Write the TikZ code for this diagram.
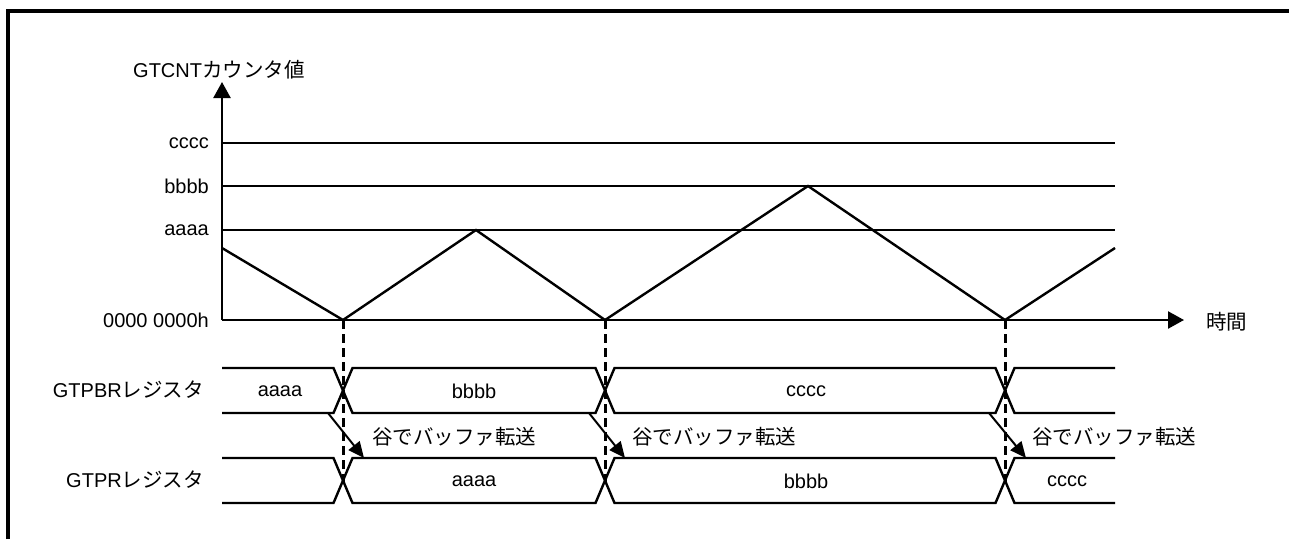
\documentclass[tikz,border=0pt]{standalone}
\usepackage{fontspec}
\setmainfont{Liberation Sans}
\newfontfamily\jpfont{Noto Sans CJK JP}
\usetikzlibrary{arrows.meta}
\newcommand{\lat}[1]{{\fontsize{20}{22}\selectfont #1}}
\newcommand{\jp}[1]{{\jpfont\fontsize{20.5}{22}\selectfont #1}}
\tikzset{
  ln/.style={line width=2.4pt},
  frame/.style={line width=3.4pt},
  axisarrow/.style={line width=2.4pt,-{Triangle[length=16pt,width=17pt]}},
  xfer/.style={line width=2pt,-{Triangle[length=16pt,width=14pt]}},
  vdash/.style={line width=3pt,dash pattern=on 9pt off 5pt},
  lbl/.style={inner sep=0pt,font=\fontsize{20}{22}\selectfont},
}
\begin{document}
\begin{tikzpicture}[x=1pt,y=-1pt]
\useasboundingbox (0,0) rectangle (1289,539);
% frame
\draw[frame] (8,539) -- (8,11) -- (1289,11);
% axes
\coordinate (o) at (222,320);
\coordinate (ytip) at (222,82);
\coordinate (xtip) at (1184,320);
\draw[axisarrow] (o) -- (ytip);
\draw[axisarrow] (o) -- (xtip);
\node[lbl,anchor=west] (ylab) at (133,70) {\lat{GTCNT}\jp{カウンタ値}};
\node[lbl,anchor=west] (xlab) at (1206,322) {\jp{時間}};
% levels
\node[lbl,anchor=east] (lc) at (209,143) {cccc};
\node[lbl,anchor=east] (lb) at (209,186) {bbbb};
\node[lbl,anchor=east] (la) at (209,230) {aaaa};
\node[lbl,anchor=east] (l0) at (209,320) {0000 0000h};
\draw[ln] (222,143) -- (1115,143);
\draw[ln] (222,186) -- (1115,186);
\draw[ln] (222,230) -- (1115,230);
% triangle wave
\coordinate (v1) at (343,320);
\coordinate (v2) at (605,320);
\coordinate (v3) at (1005,320);
\draw[ln,line join=miter] (222,248) -- (v1) -- (476,230) -- (v2) -- (808,186) -- (v3) -- (1115,248);
% register rows
\node[lbl,anchor=east] (r1) at (204,390) {\lat{GTPBR}\jp{レジスタ}};
\node[lbl,anchor=east] (r2) at (204,480) {\lat{GTPR}\jp{レジスタ}};
\foreach \t/\b in {368/413,458/503}{
  \draw[ln] (222,\t) -- (333.5,\t) -- (352.5,\b) -- (595.5,\b) -- (614.5,\t) -- (995.5,\t) -- (1014.5,\b) -- (1115,\b);
  \draw[ln] (222,\b) -- (333.5,\b) -- (352.5,\t) -- (595.5,\t) -- (614.5,\b) -- (995.5,\b) -- (1014.5,\t) -- (1115,\t);
}
\node[lbl] (p1) at (280,391) {aaaa};
\node[lbl] (p2) at (474,391) {bbbb};
\node[lbl] (p3) at (806,391) {cccc};
\node[lbl] (q1) at (474,481) {aaaa};
\node[lbl] (q2) at (806,481) {bbbb};
\node[lbl] (q3) at (1067,481) {cccc};
% crossing centres
\coordinate (c1) at (343,482);
\coordinate (c2) at (605,482);
\coordinate (c3) at (1005,482);
\draw[vdash] (v1) -- (c1);
\draw[vdash] (v2) -- (c2);
\draw[vdash] (v3) -- (c3);
% transfer arrows
\coordinate (s1) at (328,413); \coordinate (e1) at (364,458);
\coordinate (s2) at (589,413); \coordinate (e2) at (625,458);
\coordinate (s3) at (989,413); \coordinate (e3) at (1026,458);
\draw[xfer] (s1) -- (e1);
\draw[xfer] (s2) -- (e2);
\draw[xfer] (s3) -- (e3);
\node[lbl,anchor=west] (t1) at (372,437) {\jp{谷でバッファ転送}};
\node[lbl,anchor=west] (t2) at (632,437) {\jp{谷でバッファ転送}};
\node[lbl,anchor=west] (t3) at (1032,437) {\jp{谷でバッファ転送}};
\end{tikzpicture}
\end{document}
